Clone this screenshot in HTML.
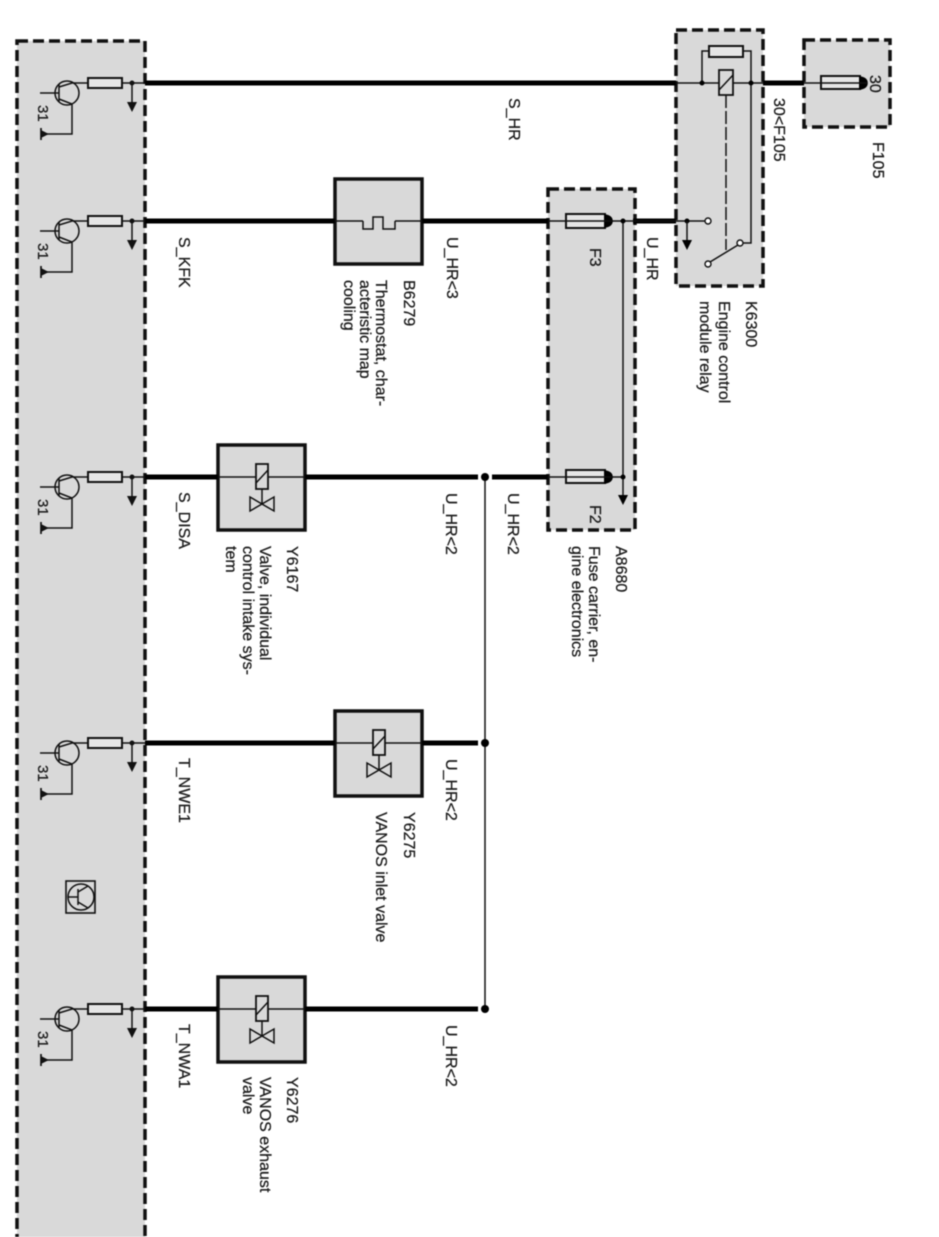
<!DOCTYPE html>
<html><head><meta charset="utf-8"><style>
html,body{margin:0;padding:0;background:#fff;width:939px;height:1237px;overflow:hidden}
svg{display:block;filter:blur(.45px)}
text{font-family:"Liberation Sans",sans-serif;font-size:16px;fill:#1a1a1a;stroke:#1a1a1a;stroke-width:.25}
.d{fill:#d9d9d9;stroke:#111;stroke-width:3.5;stroke-dasharray:11 5}
.b{fill:#d9d9d9;stroke:#111;stroke-width:3.5}
.t{stroke:#000;stroke-width:5;fill:none}
.n{stroke:#111;stroke-width:1.5;fill:none}
.f{fill:#e6e6e6;stroke:#111;stroke-width:2}
</style></head><body>
<svg width="939" height="1237" viewBox="0 0 939 1237" xmlns="http://www.w3.org/2000/svg">
<defs>
<g id="drv">
<circle cx="67" cy="10" r="12" class="n" stroke-width="1.7"/>
<path class="n" d="M40 10H59M59 1V19M59 4L72 0H88M59 16L72 21V51H45"/>
<path d="M41 45V57M41 48L47 51L41 54Z" stroke="#111" stroke-width="1.7" fill="#111"/>
<rect x="88" y="-5" width="34" height="10" class="f"/>
<path class="n" d="M122 0H145M132 0V20"/>
<circle cx="132" cy="0" r="2.5" fill="#111"/>
<path d="M127 19H137L132 29Z" fill="#111"/>
<text transform="translate(38 22) rotate(90)" style="font-size:15px">31</text>
</g>
<g id="valve">
<rect x="-6" y="-13" width="12" height="25" fill="#d9d9d9" stroke="#111" stroke-width="1.8"/>
<path class="n" d="M-6 6L6 -7"/>
<path class="n" d="M0 12V27M-12 20V34L12 20V34Z" stroke-width="1.8"/>
</g>
</defs>

<rect x="17" y="41" width="128" height="1210" class="d"/>
<rect x="548" y="189" width="87" height="341" class="d"/>
<rect x="676" y="30" width="87" height="256" class="d"/>
<rect x="804" y="40" width="86" height="87" class="d"/>
<rect x="335" y="179" width="87" height="85" class="b"/>
<rect x="218" y="445" width="87" height="85" class="b"/>
<rect x="335" y="711" width="87" height="85" class="b"/>
<rect x="218" y="977" width="87" height="85" class="b"/>

<!-- thick wires -->
<path class="t" d="M145 83H676M763 83H804"/>
<path class="t" d="M145 221H335M422 221H548M633 221H676"/>
<path class="t" d="M145 477H218M305 477H478M492 477H548"/>
<path class="t" d="M145 743H335M422 743H478"/>
<path class="t" d="M145 1009H218M305 1009H478"/>
<!-- thin wires -->
<path class="n" d="M676 83H763M804 83H860"/>
<path class="n" d="M335 221H363M395 221H422M548 221H708"/>
<path class="n" d="M218 477H305M548 477H623M623 221V497"/>
<path class="n" d="M335 743H422M218 1009H305"/>
<path class="n" d="M485 477V1009" stroke-width="2"/>
<circle cx="485" cy="477" r="4" fill="#000"/>
<circle cx="485" cy="743" r="4" fill="#000"/>
<circle cx="485" cy="1009" r="4" fill="#000"/>

<use href="#drv" x="0" y="83"/>
<use href="#drv" x="0" y="221"/>
<use href="#drv" x="0" y="477"/>
<use href="#drv" x="0" y="743"/>
<use href="#drv" x="0" y="1009"/>

<!-- centre logo -->
<rect x="66" y="881" width="29" height="32" fill="none" stroke="#111" stroke-width="1.6"/>
<circle cx="81" cy="897" r="13" class="n"/>
<path class="n" d="M68 897H78M78 889V905M78 892L88 886M78 902L88 908"/>

<!-- thermostat symbol -->
<path class="n" stroke-width="2" d="M363 221V229H373V217H383V229H395V221"/>

<!-- valves -->
<use href="#valve" x="262" y="477"/>
<use href="#valve" x="379" y="743"/>
<use href="#valve" x="262" y="1009"/>

<!-- fuses -->
<rect x="566" y="214" width="39" height="14" class="f"/>
<path d="M605 215Q612 216 612 221Q612 226 605 227Z" fill="#000" stroke="#000" stroke-width="1.5"/>
<path class="n" d="M566 221H612"/>
<rect x="566" y="470" width="39" height="13" class="f"/>
<path d="M605 471Q612 472 612 477Q612 482 605 483Z" fill="#000" stroke="#000" stroke-width="1.5"/>
<path class="n" d="M566 477H612"/>
<rect x="821" y="76" width="39" height="13" class="f"/>
<path d="M860 77Q867 78 867 83Q867 88 860 89Z" fill="#000" stroke="#000" stroke-width="1.5"/>
<path class="n" d="M821 83H867"/>
<circle cx="623" cy="221" r="2.5" fill="#000"/>
<circle cx="623" cy="477" r="2.5" fill="#000"/>
<path d="M618 495H628L623 505Z" fill="#000"/>

<!-- relay -->
<path class="n" d="M702 83V51H709M743 51H751V243H740"/>
<rect x="709" y="46" width="34" height="11" class="f"/>
<circle cx="702" cy="83" r="2.5" fill="#000"/>
<circle cx="751" cy="83" r="2.5" fill="#000"/>
<rect x="719" y="70" width="14" height="25" fill="#d9d9d9" stroke="#111" stroke-width="1.8"/>
<path class="n" d="M719 90L733 75"/>
<path class="n" d="M726 95V250" stroke-dasharray="13 3"/>
<path class="n" d="M710 262L738 245"/>
<circle cx="740" cy="243" r="3" fill="#fff" stroke="#111" stroke-width="1.4"/>
<circle cx="708" cy="264" r="3" fill="#fff" stroke="#111" stroke-width="1.4"/>
<circle cx="708" cy="221" r="3" fill="#fff" stroke="#111" stroke-width="1.4"/>
<circle cx="687" cy="221" r="2.5" fill="#000"/>
<path class="n" d="M687 221V241"/>
<path d="M682 240H692L687 250Z" fill="#000"/>

<!-- labels -->
<text transform="translate(870 75) rotate(90)">30</text>
<text transform="translate(774 98) rotate(90)">30&lt;F105</text>
<text transform="translate(873 142) rotate(90)">F105</text>
<text transform="translate(746 301) rotate(90)">K6300</text>
<text transform="translate(719 301) rotate(90)">Engine control</text>
<text transform="translate(700 301) rotate(90)">module relay</text>
<text transform="translate(509 98) rotate(90)">S_HR</text>
<text transform="translate(179 237) rotate(90)">S_KFK</text>
<text transform="translate(447 237) rotate(90)">U_HR&lt;3</text>
<text transform="translate(647 237) rotate(90)">U_HR</text>
<text transform="translate(590 248) rotate(90)">F3</text>
<text transform="translate(404 280) rotate(90)">B6279</text>
<text transform="translate(376 280) rotate(90)">Thermostat, char-</text>
<text transform="translate(360 280) rotate(90)">acteristic map</text>
<text transform="translate(344 280) rotate(90)">cooling</text>
<text transform="translate(179 492) rotate(90)">S_DISA</text>
<text transform="translate(446 493) rotate(90)">U_HR&lt;2</text>
<text transform="translate(508 493) rotate(90)">U_HR&lt;2</text>
<text transform="translate(590 505) rotate(90)">F2</text>
<text transform="translate(616 546) rotate(90)">A8680</text>
<text transform="translate(589 546) rotate(90)">Fuse carrier, en-</text>
<text transform="translate(572 546) rotate(90)">gine electronics</text>
<text transform="translate(287 546) rotate(90)">Y6167</text>
<text transform="translate(260 546) rotate(90)">Valve, individual</text>
<text transform="translate(243 546) rotate(90)">control intake sys-</text>
<text transform="translate(226 546) rotate(90)">tem</text>
<text transform="translate(179 758) rotate(90)">T_NWE1</text>
<text transform="translate(446 759) rotate(90)">U_HR&lt;2</text>
<text transform="translate(404 812) rotate(90)">Y6275</text>
<text transform="translate(376 812) rotate(90)">VANOS inlet valve</text>
<text transform="translate(179 1024) rotate(90)">T_NWA1</text>
<text transform="translate(446 1025) rotate(90)">U_HR&lt;2</text>
<text transform="translate(287 1077) rotate(90)">Y6276</text>
<text transform="translate(260 1077) rotate(90)">VANOS exhaust</text>
<text transform="translate(243 1077) rotate(90)">valve</text>
</svg>
</body></html>
